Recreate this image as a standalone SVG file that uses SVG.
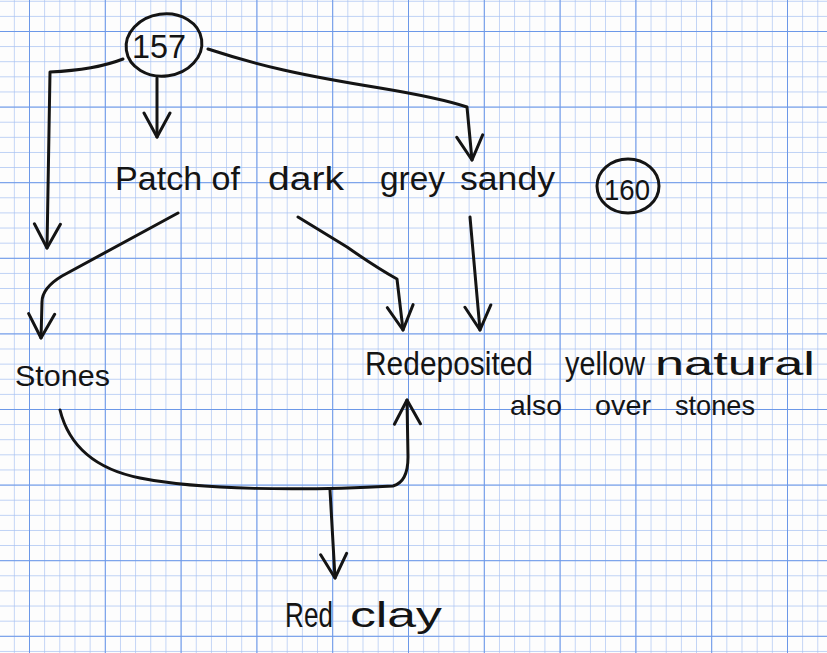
<svg xmlns="http://www.w3.org/2000/svg" width="827" height="653" viewBox="0 0 827 653">
  <defs>
    <pattern id="fineGrid" patternUnits="userSpaceOnUse" x="29" y="31" width="15.16" height="15.12">
      <path d="M0,0 V15.12 M0,0 H15.16" fill="none" stroke="#a6c1f2" stroke-width="1.3"/>
    </pattern>
    <pattern id="majorGrid" patternUnits="userSpaceOnUse" x="29" y="31" width="75.8" height="75.6">
      <path d="M0,0 V75.6 M0,0 H75.8" fill="none" stroke="#6c98e8" stroke-width="2"/>
    </pattern>
    <marker id="arrow" viewBox="-2 -2 28 30" refX="24" refY="13" markerWidth="28" markerHeight="30" markerUnits="userSpaceOnUse" orient="auto">
      <path d="M0,0 L24,13 L0,26" fill="none" stroke="#141414" stroke-width="3" stroke-linecap="round" stroke-linejoin="round"/>
    </marker>
  </defs>
  <style>
    .ink { fill: none; stroke: #141414; stroke-width: 3; stroke-linecap: round; stroke-linejoin: round; }
    .hand { font-family: "Liberation Sans", "DejaVu Sans", sans-serif; fill: #141414; }
  </style>

  <rect width="827" height="653" fill="#fdfdfd"/>
  <rect width="827" height="653" fill="url(#fineGrid)"/>
  <rect width="827" height="653" fill="url(#majorGrid)"/>

  <g id="connectors">
    <path class="ink" d="M123,59 Q95,70 50,72 L47,248" marker-end="url(#arrow)"/>
    <path class="ink" d="M157,78 L157,137" marker-end="url(#arrow)"/>
    <path class="ink" d="M208,49 C260,66 300,75 380,88 Q440,98 467,107 L472,160" marker-end="url(#arrow)"/>
    <path class="ink" d="M178,213 L62,276 Q42,288 42,302 L41,338" marker-end="url(#arrow)"/>
    <path class="ink" d="M298,217 L347,247 Q377,268 397,279 L403,330" marker-end="url(#arrow)"/>
    <path class="ink" d="M470,217 L480,330" marker-end="url(#arrow)"/>
    <path class="ink" d="M60,410 C70,450 100,470 140,478 C200,490 300,491 393,486 Q408,482 408,457 L407,400" marker-end="url(#arrow)"/>
    <path class="ink" d="M330,490 L335,578" marker-end="url(#arrow)"/>
  </g>

  <g id="node-157">
    <ellipse class="ink" cx="164" cy="45" rx="38" ry="31" transform="rotate(-8 164 45)"/>
    <text class="hand" x="132" y="58" font-size="34" textLength="54" lengthAdjust="spacingAndGlyphs">157</text>
  </g>

  <g id="node-patch">
    <text class="hand" y="190" font-size="34">
      <tspan x="115" textLength="125" lengthAdjust="spacingAndGlyphs">Patch of</tspan>
      <tspan x="268" textLength="76" lengthAdjust="spacingAndGlyphs">dark</tspan>
      <tspan x="380" textLength="65" lengthAdjust="spacingAndGlyphs">grey</tspan>
      <tspan x="460" textLength="95" lengthAdjust="spacingAndGlyphs">sandy</tspan>
    </text>
  </g>

  <g id="node-160">
    <ellipse class="ink" cx="628" cy="186" rx="31" ry="27"/>
    <text class="hand" x="604" y="200" font-size="30" textLength="46" lengthAdjust="spacingAndGlyphs">160</text>
  </g>

  <g id="node-stones">
    <text class="hand" x="15" y="386" font-size="30" textLength="95" lengthAdjust="spacingAndGlyphs">Stones</text>
  </g>

  <g id="node-redeposited">
    <text class="hand" y="375" font-size="33">
      <tspan x="365" textLength="168" lengthAdjust="spacingAndGlyphs">Redeposited</tspan>
      <tspan x="565" textLength="80" lengthAdjust="spacingAndGlyphs">yellow</tspan>
      <tspan x="655" textLength="160" lengthAdjust="spacingAndGlyphs">natural</tspan>
    </text>
    <text class="hand" y="415" font-size="28">
      <tspan x="510" textLength="52" lengthAdjust="spacingAndGlyphs">also</tspan>
      <tspan x="595" textLength="56" lengthAdjust="spacingAndGlyphs">over</tspan>
      <tspan x="675" textLength="80" lengthAdjust="spacingAndGlyphs">stones</tspan>
    </text>
  </g>

  <g id="node-redclay">
    <text class="hand" y="627" font-size="35">
      <tspan x="285" textLength="48" lengthAdjust="spacingAndGlyphs">Red</tspan>
      <tspan x="350" textLength="92" lengthAdjust="spacingAndGlyphs">clay</tspan>
    </text>
  </g>
</svg>
